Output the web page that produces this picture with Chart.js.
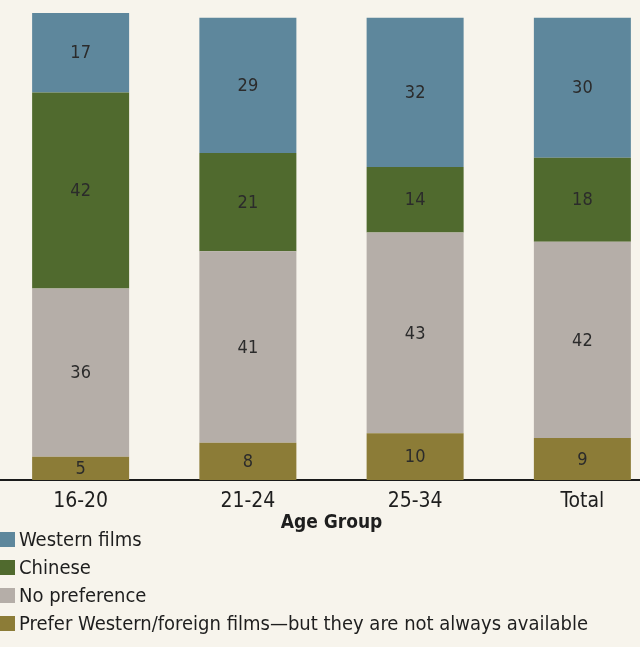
<!DOCTYPE html>
<html>
<head>
<meta charset="utf-8">
<script src="https://cdn.jsdelivr.net/npm/chart.js@4"></script>
<style>
  html, body { margin: 0; padding: 0; background: #f7f4ec; overflow: hidden; }
  #wrap { position: relative; width: 640px; height: 647px; overflow: hidden; }
  #chart { position: absolute; left: -3px; top: 0; }
  #legend { position: absolute; left: 0; top: 525px; font-family: "Liberation Sans Narrow", "DejaVu Sans Condensed", "Roboto Condensed", sans-serif; font-size: 20px; color: #1e1e1e; }
  .row { height: 28px; display: flex; align-items: center; }
  .box { width: 15px; height: 15px; margin-right: 4px; }
</style>
</head>
<body>
<div id="wrap">
  <canvas id="chart" width="669" height="534"></canvas>
  <div id="legend"></div>
</div>
<script>
// categories and series, stacked bottom to top
const categories = ['16-20', '21-24', '25-34', 'Total'];
const preferForeign = [5, 8, 10, 9];
const noPreference  = [36, 41, 43, 42];
const chinese       = [42, 21, 14, 18];
const western       = [17, 29, 32, 30];

const FONT = '"Liberation Sans Narrow", "DejaVu Sans Condensed", "Roboto Condensed", sans-serif';

const COLORS = {
  western: '#5e879c',
  chinese: '#506a2e',
  nopref:  '#b5aea8',
  prefer:  '#8c7c37',
};

const datasets = [
  { label: 'Prefer Western/foreign films\u2014but they are not always available', data: preferForeign, backgroundColor: COLORS.prefer },
  { label: 'No preference', data: noPreference, backgroundColor: COLORS.nopref },
  { label: 'Chinese', data: chinese, backgroundColor: COLORS.chinese },
  { label: 'Western films', data: western, backgroundColor: COLORS.western },
];

// ── value labels in the middle of each segment ──────────────────────────
const segmentLabels = {
  id: 'segmentLabels',
  afterDatasetsDraw(chart) {
    const { ctx } = chart;
    ctx.save();
    ctx.font = '18px ' + FONT;
    ctx.fillStyle = '#2b2b2b';
    ctx.textAlign = 'center';
    ctx.textBaseline = 'middle';
    chart.data.datasets.forEach((ds, i) => {
      chart.getDatasetMeta(i).data.forEach((bar, j) => {
        const mid = (bar.y + bar.base) / 2;
        ctx.fillText(String(ds.data[j]), bar.x, mid + 1);
      });
    });
    ctx.restore();
  }
};

const chart = new Chart(document.getElementById('chart'), {
  type: 'bar',
  data: { labels: categories, datasets: datasets.map(d => ({ ...d, borderWidth: 0, categoryPercentage: 1, barPercentage: 0.58 })) },
  options: {
    responsive: false,
    animation: false,
    layout: { padding: { top: 13, left: 0, right: 0, bottom: 0 } },
    plugins: { legend: { display: false }, tooltip: { enabled: false } },
    scales: {
      x: {
        stacked: true,
        grid: { display: false, drawTicks: false },
        border: { display: true, color: '#1a1a1a', width: 2 },
        ticks: { color: '#1e1e1e', font: { family: FONT, size: 21 }, padding: 9 },
        title: { display: true, text: 'Age Group', color: '#1e1e1e', font: { family: FONT, size: 19, weight: 'bold' }, padding: { top: -12, bottom: 0 } }
      },
      y: { stacked: true, display: false, min: 0, max: 100 }
    }
  },
  plugins: [segmentLabels]
});

// ── vertical legend below the chart ────────────────────────────────────
const legend = document.getElementById('legend');
datasets.slice().reverse().forEach(ds => {
  const row = document.createElement('div');
  row.className = 'row';
  const box = document.createElement('span');
  box.className = 'box';
  box.style.background = ds.backgroundColor;
  const txt = document.createElement('span');
  txt.textContent = ds.label;
  row.appendChild(box);
  row.appendChild(txt);
  legend.appendChild(row);
});
</script>
</body>
</html>
